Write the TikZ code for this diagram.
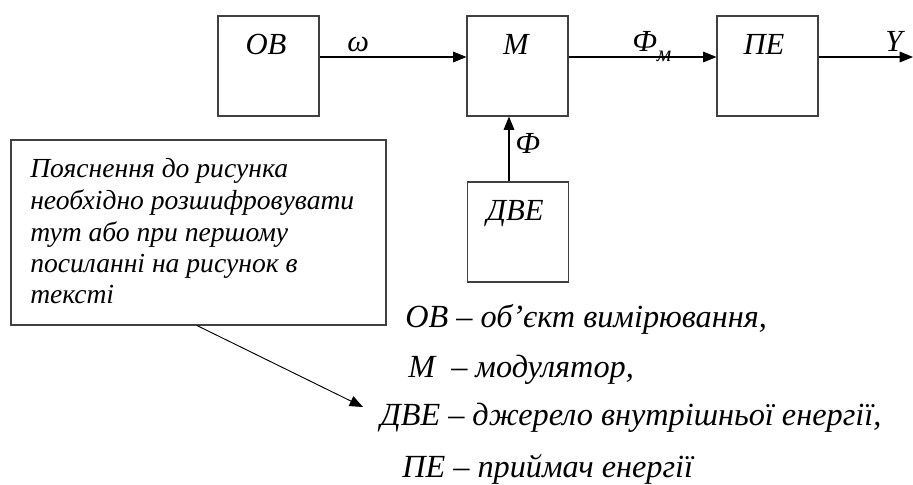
\documentclass[tikz,border=0pt]{standalone}
\usepackage{fontspec}
\setmainfont{Liberation Serif}
\usetikzlibrary{arrows.meta}
\begin{document}
\begin{tikzpicture}[x=0.75pt,y=-0.75pt,
  blk/.style={draw=black!75, line width=0.8pt, minimum width=75.75pt, minimum height=75pt, inner sep=0pt},
  lbl/.style={font=\fontsize{23}{30}\selectfont\itshape, inner sep=0pt},
  notetxt/.style={font=\fontsize{20.7}{28}\selectfont\itshape, inner sep=0pt, anchor=base west},
  legtxt/.style={font=\fontsize{24.2}{30}\selectfont\itshape, inner sep=0pt, anchor=base west},
  arr/.style={line width=0.8pt, -{Triangle[length=10pt,width=8pt]}},
  ]
\useasboundingbox (0,0) rectangle (913,485);
% blocks
\node[blk] (ov) at (268.5,66) {};
\node[blk] (m) at (517.5,66) {};
\node[blk] (pe) at (767.5,66) {};
\node[blk] (dve) at (518,232) {};
\node[blk, minimum width=281.25pt, minimum height=138.75pt] (note) at (198.5,232.5) {};
% block labels
\node[lbl, anchor=base] (ovt) at (266,55) {ОВ};
\node[lbl, anchor=base] (mt) at (516,55) {М};
\node[lbl, anchor=base] (pet) at (764,55) {ПЕ};
\node[lbl, anchor=base] (dvet) at (515,220) {ДВЕ};
% signal labels
\node[lbl, anchor=base west] (w) at (347,52) {ω};
\node[lbl, anchor=base west] (fm) at (632,52) {Ф\raisebox{-0.3em}{\fontsize{17}{17}\selectfont м}};
\node[lbl, anchor=base west] (yl) at (885,52) {Y};
\node[lbl, anchor=base west] (f) at (515,153) {Ф};
% arrows
\coordinate (yend) at (913,57);
\draw[arr] (ov.east |- 0,57) -- (m.west |- 0,57);
\draw[arr] (m.east |- 0,57) -- (pe.west |- 0,57);
\draw[arr] (pe.east |- 0,57) -- (yend);
\draw[arr] (dve.north -| 509,0) -- (m.south -| 509,0);
% note text
\node[notetxt] (n1) at (30,177) {Пояснення до рисунка};
\node[notetxt] (n2) at (30,209) {необхідно розшифровувати};
\node[notetxt] (n3) at (30,241) {тут або при першому};
\node[notetxt] (n4) at (30,272) {посиланні на рисунок в};
\node[notetxt] (n5) at (30,303) {тексті};
\coordinate (ptr) at (363,407);
\draw[arr, line width=0.7pt] (note.south -| 197,0) -- (ptr);
% legend
\node[legtxt] (l1) at (405,327) {ОВ – об’єкт вимірювання,};
\node[legtxt] (l2) at (408,377) {М\ \ – модулятор,};
\node[legtxt] (l3) at (380,425) {ДВЕ – джерело внутрішньої енергії,};
\node[legtxt] (l4) at (402,477) {ПЕ – приймач енергії};
\end{tikzpicture}
\end{document}
